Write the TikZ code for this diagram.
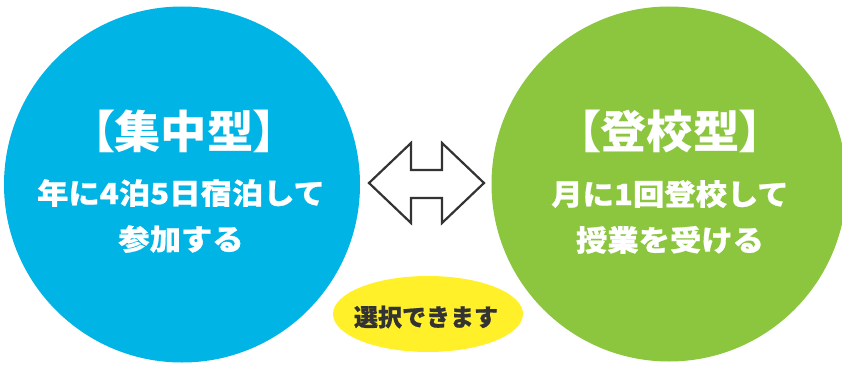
\documentclass[tikz,border=0pt]{standalone}
\usepackage{fontspec}
\newfontfamily\jptitle{Noto Sans CJK JP}[UprightFont={* Black}, RawFeature=+palt, FakeStretch=1.03]
\newfontfamily\jpbody{Noto Sans CJK JP}[UprightFont={* Black}, FakeStretch=1.08, FakeBold=0.8]
\newfontfamily\jpnote{Noto Sans CJK JP}[UprightFont={* Black}, FakeBold=0.6]
\definecolor{cblue}{HTML}{00B4E6}
\definecolor{cgreen}{HTML}{8CC63F}
\definecolor{cyellow}{HTML}{FFF02A}
\definecolor{cdark}{HTML}{333333}
\tikzset{
  titletext/.style={text=white, font=\jptitle\fontsize{45}{45}\selectfont, inner sep=0pt},
  bodytext/.style={text=white, font=\jpbody\fontsize{29}{46}\selectfont, align=center, inner sep=0pt},
  notetext/.style={text=cdark, font=\jpnote\fontsize{24}{24}\selectfont, inner sep=0pt},
}
\begin{document}
\begin{tikzpicture}[x=1pt, y=-1pt]
\useasboundingbox (0,0) rectangle (842,366);
\begin{scope}
\clip (0,0) rectangle (842,366);
\fill[cblue] (182,184.5) circle[radius=178];
\fill[cgreen] (669,184) circle[radius=177.5];
\end{scope}
\fill[cyellow] (428,314) ellipse[x radius=95, y radius=38];
\draw[cdark, line width=2.2pt, fill=white, line join=miter]
  (369,183) -- (411,143) -- (411,170) -- (442,170) -- (442,143) -- (484,183)
  -- (442,223) -- (442,198) -- (411,198) -- (411,223) -- cycle;
\node[titletext] (t1) at (184,131) {【集中型】};
\node[bodytext] (b1) at (181,216) {年に4泊5日宿泊して\\参加する};
\node[titletext] (t2) at (670,131) {【登校型】};
\node[bodytext] (b2) at (670,217) {月に1回登校して\\授業を受ける};
\node[notetext] (n) at (426,317) {選択できます};
\end{tikzpicture}
\end{document}
